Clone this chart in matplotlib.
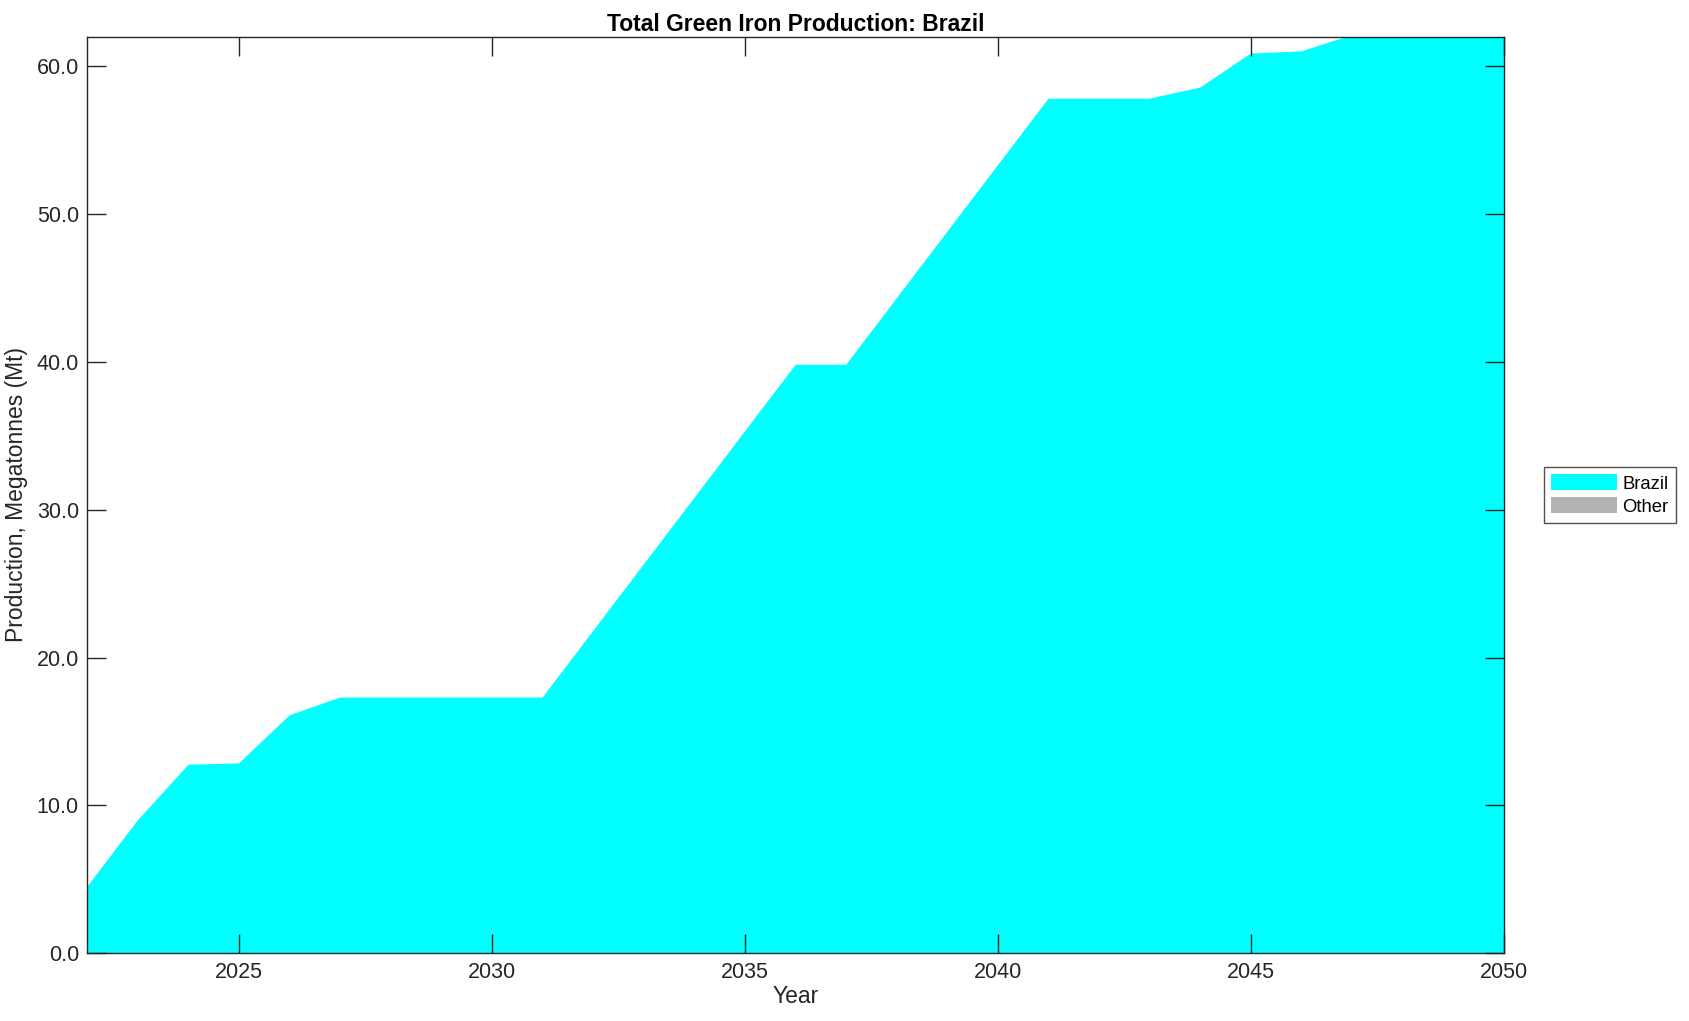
import numpy as np
import matplotlib
matplotlib.use('Agg')
import matplotlib.pyplot as plt
from matplotlib.ticker import FormatStrFormatter

plt.rcParams['font.family'] = ['Liberation Sans', 'DejaVu Sans']

years = list(range(2022, 2051))
brazil = [4.5, 9.0, 12.75, 12.85, 16.1, 17.3, 17.3, 17.3, 17.3, 17.3,
          21.8, 26.3, 30.8, 35.3, 39.8, 39.8, 44.3, 48.8, 53.3, 57.8,
          57.8, 57.8, 58.55, 60.85, 61.0, 62.1, 62.5, 63.0, 63.4]
other = [0.0] * len(years)

fig = plt.figure(figsize=(16.89, 10.21), dpi=100)
ax = fig.add_axes([0.0517, 0.0663, 0.8387, 0.8979])

ax.stackplot(years, brazil, other, colors=['#00FFFF', '#B3B3B3'],
             labels=['Brazil', 'Other'], linewidth=0)

ax.set_xlim(2022, 2050)
ax.set_ylim(0, 62)
ax.set_xticks([2025, 2030, 2035, 2040, 2045, 2050])
ax.set_yticks([0, 10, 20, 30, 40, 50, 60])
ax.yaxis.set_major_formatter(FormatStrFormatter('%.1f'))
ax.tick_params(direction='in', length=14, width=1, top=True, right=True,
               labelsize=15.5, colors='#262626', labelcolor='#262626', pad=6)
for s in ax.spines.values():
    s.set_linewidth(1)
    s.set_color('#262626')
ax.set_axisbelow(False)

ax.set_xlabel('Year', fontsize=16.5, color='#262626', labelpad=2)
ax.set_ylabel('Production, Megatonnes (Mt)', fontsize=16.5, color='#262626', labelpad=6)
ax.set_title('Total Green Iron Production: Brazil', fontsize=16.5, fontweight='bold', pad=4)

leg = ax.legend(loc='center left', bbox_to_anchor=(1.028, 0.5), fontsize=13.3,
                frameon=True, fancybox=False, edgecolor='#262626',
                handlelength=3.6, handleheight=0.95, borderpad=0.38,
                labelspacing=0.25, handletextpad=0.3, borderaxespad=0)
leg.get_frame().set_linewidth(1)

fig.savefig('out.png', dpi=100)
